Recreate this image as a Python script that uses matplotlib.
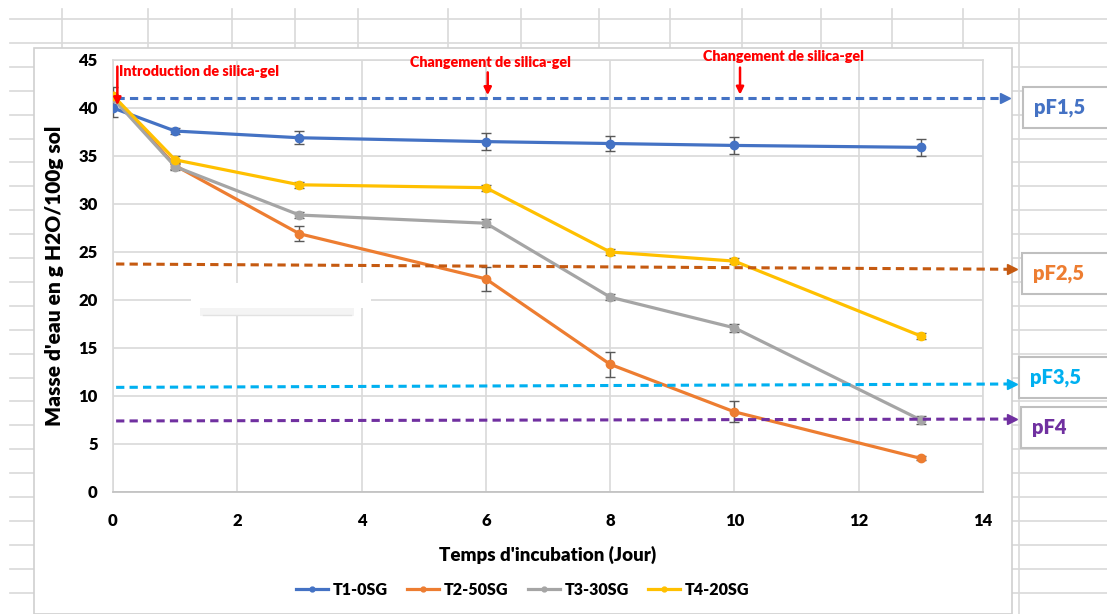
import numpy as np
import matplotlib.pyplot as plt
from matplotlib.patches import Rectangle
from matplotlib.lines import Line2D

# incubation days and water mass (g H2O / 100 g soil)
days = [0, 1, 3, 6, 8, 10, 13]
t1 = [40.0, 37.6, 36.9, 36.5, 36.3, 36.1, 35.9]
t1_err = [0.9, 0.3, 0.7, 0.9, 0.8, 0.85, 0.85]
t2 = [41.2, 34.0, 26.9, 22.2, 13.3, 8.35, 3.5]
t2_err = [0.3, 0.4, 0.8, 1.25, 1.3, 1.1, 0.2]
t3 = [41.0, 33.9, 28.85, 28.0, 20.3, 17.1, 7.5]
t3_err = [0.3, 0.4, 0.3, 0.4, 0.3, 0.4, 0.4]
t4 = [41.3, 34.6, 32.0, 31.7, 25.0, 24.05, 16.25]
t4_err = [0.9, 0.4, 0.3, 0.3, 0.3, 0.3, 0.35]
series_names = ['T1-0SG', 'T2-50SG', 'T3-30SG', 'T4-20SG']

# pF reference levels (left value, right value)
pf_names = ['pF1,5', 'pF2,5', 'pF3,5', 'pF4']
pf_start = [41.0, 23.75, 10.9, 7.4]
pf_end = [41.0, 23.2, 11.25, 7.6]

# silica-gel events
event_labels = ['Introduction de silica-gel', 'Changement de silica-gel', 'Changement de silica-gel']
event_days = [0.07, 6.03, 10.09]

W, H = 1107, 614


def fx(x):
    return x / W


def fy(y):
    return 1 - y / H


plt.rcParams['font.family'] = ['Lato', 'DejaVu Sans']
BOLD = 'heavy'

fig = plt.figure(figsize=(W / 100, H / 100), dpi=100)
fig.patch.set_facecolor('white')

# spreadsheet cells behind the chart
grid_c = '#D9D9D9'
for n in range(26):
    y = 19 + 23.9 * n
    fig.add_artist(Line2D([fx(10), 1], [fy(y), fy(y)], color=grid_c, lw=1.2, zorder=0))
for x in [62, 148, 232, 295, 358, 448, 521, 599, 670, 742, 821, 892, 963, 1019]:
    fig.add_artist(Line2D([fx(x), fx(x)], [fy(9), 0], color=grid_c, lw=1.2, zorder=0))

# chart area
fig.add_artist(Rectangle((fx(34), 0), fx(1012) - fx(34), fy(48), transform=fig.transFigure,
                         facecolor='white', edgecolor='#D0D0D0', lw=1.2, zorder=1))

# pF label boxes on the right
box_top = [87, 253, 357, 407]
box_left = [1023, 1022, 1019, 1021]
box_h = 41
pf_text_colors = ['#4472C4', '#ED7D31', '#00B0F0', '#7030A0']
for name, bt, bl, c in zip(pf_names, box_top, box_left, pf_text_colors):
    fig.add_artist(Rectangle((fx(bl), fy(bt + box_h)), 1 - fx(bl) + 0.01, box_h / H,
                             transform=fig.transFigure, facecolor='white',
                             edgecolor='#BFBFBF', lw=1.5, zorder=2))
    fig.text(fx(bl + 11), fy(bt + box_h / 2), name, color=c, fontsize=14.5,
             fontweight=BOLD, va='center', ha='left', zorder=3)

ax = fig.add_axes([fx(113), fy(492), fx(983) - fx(113), fy(60) - fy(492)])
ax.set_zorder(2)
ax.patch.set_alpha(0)

ax.set_xlim(0, 14)
ax.set_ylim(0, 45)
ax.set_xticks(np.arange(0, 15, 2))
ax.set_yticks(np.arange(0, 46, 5))
ax.grid(True, color=grid_c, lw=1.2)
ax.set_axisbelow(True)
for s in ax.spines.values():
    s.set_color(grid_c)
    s.set_linewidth(1.2)
ax.spines['bottom'].set_color('#BFBFBF')
ax.tick_params(length=0, labelsize=12)
ax.tick_params(axis='x', pad=15)
ax.tick_params(axis='y', pad=11)
for lab in ax.get_xticklabels() + ax.get_yticklabels():
    lab.set_fontweight(BOLD)

ax.set_xlabel("Temps d'incubation (Jour)", fontsize=13.5, fontweight=BOLD, labelpad=12)
ax.set_ylabel("Masse d'eau en g H2O/100g sol", fontsize=15, fontweight=BOLD)
ax.yaxis.set_label_coords(-0.056, 0.5)

colors = ['#4472C4', '#ED7D31', '#A5A5A5', '#FFC000']
for vals, errs, c, name in zip([t1, t2, t3, t4], [t1_err, t2_err, t3_err, t4_err], colors, series_names):
    ax.errorbar(days, vals, yerr=errs, fmt='none', ecolor='#595959', elinewidth=1,
                capsize=3.5, capthick=1, zorder=3)
    ax.plot(days, vals, color=c, lw=2.3, marker='o', markersize=6, zorder=4, label=name)

# dashed pF levels with arrow heads
pf_line_colors = ['#4472C4', '#C55A11', '#00B0F0', '#7030A0']
pf_x_end = [14.42, 14.53, 14.52, 14.52]
for y0, y1, xe, c in zip(pf_start, pf_end, pf_x_end, pf_line_colors):
    ax.plot([0.05, xe - 0.08], [y0, y1], color=c, lw=2.2, dashes=(2.7, 1.7),
            clip_on=False, zorder=5)
    ax.plot([xe - 0.06], [y1], marker='>', color=c, markersize=6.5, clip_on=False, zorder=5)

# silica-gel event arrows
red = '#FF0000'
ax.annotate('', xy=(event_days[0], 40.0), xytext=(event_days[0], 44.6),
            arrowprops=dict(arrowstyle='-|>', color=red, lw=1.8, mutation_scale=11), zorder=6)
ax.text(event_days[0] + 0.02, 43.85, event_labels[0], color=red, fontsize=10.3,
        fontweight=BOLD, ha='left', va='center', zorder=6)
ax.annotate('', xy=(event_days[1], 41.05), xytext=(event_days[1], 44.0),
            arrowprops=dict(arrowstyle='-|>', color=red, lw=1.8, mutation_scale=11), zorder=6)
ax.text(event_days[1] + 0.05, 44.7, event_labels[1], color=red, fontsize=10.3,
        fontweight=BOLD, ha='center', va='center', zorder=6)
ax.annotate('', xy=(event_days[2], 41.1), xytext=(event_days[2], 44.5),
            arrowprops=dict(arrowstyle='-|>', color=red, lw=1.8, mutation_scale=11),
            annotation_clip=False, zorder=6)
ax.text(event_days[2] + 0.7, 45.4, event_labels[2], color=red, fontsize=10.3,
        fontweight=BOLD, ha='center', va='center', clip_on=False, zorder=6)

# stray blank box left on the sheet (with a faint shadow)
fig.add_artist(Rectangle((fx(200), fy(316)), fx(354) - fx(200), (316 - 300) / H,
                         transform=fig.transFigure, facecolor='#F4F4F4', edgecolor='none', zorder=3))
fig.add_artist(Line2D([fx(203), fx(351)], [fy(315), fy(315)], color='#E2E2E2', lw=1, zorder=3))
fig.add_artist(Rectangle((fx(191), fy(308)), fx(371) - fx(191), (308 - 283) / H,
                         transform=fig.transFigure, facecolor='white', edgecolor='none', zorder=3))

# legend: thin lines with small markers
leg_handles = [Line2D([], [], color=c, lw=2.3, marker='o', markersize=3.5) for c in colors]
fig.legend(leg_handles, series_names, loc='center', bbox_to_anchor=(fx(523), fy(590)), ncol=4,
           frameon=False, prop={'weight': BOLD, 'size': 11.5},
           handlelength=2.0, columnspacing=1.2, handletextpad=0.3)

fig.savefig('out.png', dpi=100)
